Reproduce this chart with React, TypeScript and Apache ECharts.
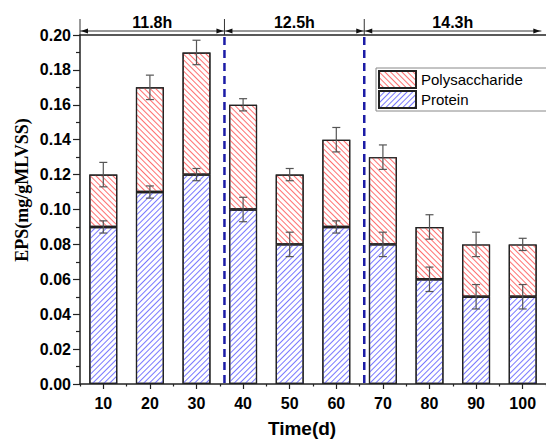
import React, { useEffect, useRef } from 'react';
import * as echarts from 'echarts';

const categories = ['10', '20', '30', '40', '50', '60', '70', '80', '90', '100'];
const protein = [0.09, 0.11, 0.12, 0.10, 0.08, 0.09, 0.08, 0.06, 0.05, 0.05];
const polysaccharide = [0.03, 0.06, 0.07, 0.06, 0.04, 0.05, 0.05, 0.03, 0.03, 0.03];
const proteinErr = [0.0035, 0.0035, 0.0035, 0.007, 0.007, 0.0035, 0.007, 0.007, 0.007, 0.007];
const totalErr = [0.007, 0.007, 0.007, 0.0035, 0.0035, 0.007, 0.007, 0.007, 0.007, 0.0035];
const yMin = 0;
const yMax = 0.2;
const yInterval = 0.02;
const dayMin = 5;
const dayMax = 105;
const dividerDays = [36, 66];
const periodLabels = ['11.8h', '12.5h', '14.3h'];
const periodBounds = [5, 36, 66, 104];

const SANS = 'Liberation Sans, Arial, sans-serif';
const SERIF = 'Liberation Serif, Times New Roman, serif';

export default function App() {
  const ref = useRef<HTMLDivElement>(null);
  useEffect(() => {
    if (!ref.current) return;
    const chart = echarts.init(ref.current, null, { renderer: 'svg' });

    const errData: number[][] = [];
    categories.forEach((_, i) => {
      errData.push([i, protein[i], proteinErr[i]]);
      errData.push([i, +(protein[i] + polysaccharide[i]).toFixed(4), totalErr[i]]);
    });
    const periodData = periodLabels.map((_, i) => [periodBounds[i], periodBounds[i + 1], i]);

    const option: any = {
      animation: false,
      grid: { left: 80, top: 35, width: 468, height: 349, containLabel: false },
      legend: {
        orient: 'vertical',
        left: 376,
        top: 68,
        data: ['Polysaccharide', 'Protein'],
        itemWidth: 37,
        itemHeight: 17,
        itemGap: 1,
        icon: 'rect',
        borderColor: '#888',
        borderWidth: 1,
        padding: [2, 24, 2, 2],
        textStyle: { fontSize: 15, fontFamily: SANS, color: '#000' },
      },
      xAxis: [
        {
          type: 'category',
          data: categories,
          position: 'bottom',
          boundaryGap: true,
          axisLine: { show: true, lineStyle: { color: '#222', width: 1.5 } },
          axisTick: { show: true, alignWithLabel: true, length: 5, lineStyle: { color: '#222', width: 1.2 } },
          axisLabel: { fontSize: 16, fontWeight: 'bold', fontFamily: SANS, color: '#000', margin: 11 },
          splitLine: { show: false },
        },
        {
          type: 'category',
          data: categories,
          position: 'bottom',
          boundaryGap: true,
          axisLine: { show: false },
          axisTick: { show: true, length: 2.5, lineStyle: { color: '#222', width: 1.2 } },
          axisLabel: { show: false },
          splitLine: { show: false },
        },
        {
          type: 'value',
          min: dayMin,
          max: dayMax,
          position: 'top',
          axisLine: { show: true, lineStyle: { color: '#222', width: 1.5 } },
          axisTick: { show: false },
          axisLabel: { show: false },
          splitLine: { show: false },
        },
      ],
      yAxis: {
        type: 'value',
        min: yMin,
        max: yMax,
        interval: yInterval,
        axisLine: { show: true, lineStyle: { color: '#222', width: 1.5 } },
        axisTick: { show: true, length: 7, lineStyle: { color: '#222', width: 1.2 } },
        minorTick: { show: true, splitNumber: 2, length: 4, lineStyle: { color: '#222', width: 1.2 } },
        axisLabel: {
          fontSize: 16,
          fontWeight: 'bold',
          fontFamily: SANS,
          color: '#000',
          margin: 9,
          formatter: (v: number) => v.toFixed(2),
        },
        splitLine: { show: false },
      },
      series: [
        {
          name: 'Protein',
          type: 'bar',
          stack: 'eps',
          barWidth: 28,
          data: protein,
          itemStyle: {
            color: '#ffffff',
            borderColor: '#222',
            borderWidth: 1.2,
            decal: {
              symbol: 'rect',
              symbolSize: 1,
              color: '#7878ff',
              dashArrayX: [1, 0],
              dashArrayY: [1, 2.2],
              rotation: -Math.PI / 4,
            },
          },
          z: 2,
        },
        {
          name: 'Polysaccharide',
          type: 'bar',
          stack: 'eps',
          barWidth: 28,
          data: polysaccharide,
          itemStyle: {
            color: '#ffffff',
            borderColor: '#222',
            borderWidth: 1.2,
            decal: {
              symbol: 'rect',
              symbolSize: 1,
              color: '#ff7070',
              dashArrayX: [1, 0],
              dashArrayY: [1, 2.2],
              rotation: Math.PI / 4,
            },
          },
          z: 2,
        },
        {
          type: 'custom',
          name: 'err',
          xAxisIndex: 0,
          yAxisIndex: 0,
          clip: false,
          z: 5,
          dimensions: ['x', 'y', 'e'],
          encode: { x: 0, y: 1 },
          data: errData,
          renderItem: (params: any, api: any) => {
            const x = api.value(0);
            const y = api.value(1);
            const e = api.value(2);
            const hi = api.coord([x, y + e]);
            const lo = api.coord([x, y - e]);
            const cap = 4;
            const st = { stroke: '#555', lineWidth: 1.2 };
            return {
              type: 'group',
              children: [
                { type: 'line', shape: { x1: hi[0], y1: hi[1], x2: lo[0], y2: lo[1] }, style: st },
                { type: 'line', shape: { x1: hi[0] - cap, y1: hi[1], x2: hi[0] + cap, y2: hi[1] }, style: st },
                { type: 'line', shape: { x1: lo[0] - cap, y1: lo[1], x2: lo[0] + cap, y2: lo[1] }, style: st },
              ],
            };
          },
        },
        {
          type: 'custom',
          name: 'dividers',
          xAxisIndex: 2,
          yAxisIndex: 0,
          clip: false,
          z: 1,
          dimensions: ['d'],
          encode: { x: 0 },
          data: dividerDays.map((d) => [d]),
          renderItem: (params: any, api: any) => {
            const d = api.value(0);
            const top = api.coord([d, yMax]);
            const bot = api.coord([d, yMin]);
            return {
              type: 'line',
              shape: { x1: top[0], y1: top[1] + 2, x2: bot[0], y2: bot[1] },
              style: { stroke: '#1c1ca6', lineWidth: 2.5, lineDash: [8, 5] },
            };
          },
        },
        {
          type: 'custom',
          name: 'periods',
          xAxisIndex: 2,
          yAxisIndex: 0,
          clip: false,
          z: 6,
          dimensions: ['a', 'b', 'i'],
          encode: { x: [0, 1] },
          data: periodData,
          renderItem: (params: any, api: any) => {
            const a = api.value(0);
            const b = api.value(1);
            const idx = api.value(2);
            const pa = api.coord([a, yMax]);
            const pb = api.coord([b, yMax]);
            const yTop = pa[1];
            const ya = yTop - 4;
            const ah = 7;
            const aw = 2.6;
            const st = { stroke: '#333', lineWidth: 1 };
            return {
              type: 'group',
              children: [
                { type: 'line', shape: { x1: pa[0], y1: yTop - 16, x2: pa[0], y2: yTop }, style: st },
                { type: 'line', shape: { x1: pa[0], y1: ya, x2: pb[0], y2: ya }, style: st },
                {
                  type: 'polygon',
                  shape: { points: [[pa[0] + 1, ya], [pa[0] + 1 + ah, ya - aw], [pa[0] + 1 + ah, ya + aw]] },
                  style: { fill: '#111' },
                },
                {
                  type: 'polygon',
                  shape: { points: [[pb[0] - 1, ya], [pb[0] - 1 - ah, ya - aw], [pb[0] - 1 - ah, ya + aw]] },
                  style: { fill: '#111' },
                },
                {
                  type: 'text',
                  x: (pa[0] + pb[0]) / 2,
                  y: yTop - 13,
                  style: {
                    text: periodLabels[idx],
                    textAlign: 'center',
                    textVerticalAlign: 'middle',
                    font: `bold 16px ${SANS}`,
                    fill: '#000',
                  },
                },
              ],
            };
          },
        },
      ],
      graphic: [
        {
          type: 'text',
          x: 22,
          y: 190,
          rotation: Math.PI / 2,
          style: {
            text: 'EPS(mg/gMLVSS)',
            textAlign: 'center',
            textVerticalAlign: 'middle',
            font: `bold 18px ${SERIF}`,
            fill: '#000',
          },
        },
        {
          type: 'text',
          x: 302,
          y: 428,
          style: {
            text: 'Time(d)',
            textAlign: 'center',
            textVerticalAlign: 'middle',
            font: `bold 19px ${SANS}`,
            fill: '#000',
          },
        },
      ],
    };
    chart.setOption(option);
    return () => chart.dispose();
  }, []);
  return <div ref={ref} style={{ width: 546, height: 440, position: 'absolute', left: 0, top: 0 }} />;
}
